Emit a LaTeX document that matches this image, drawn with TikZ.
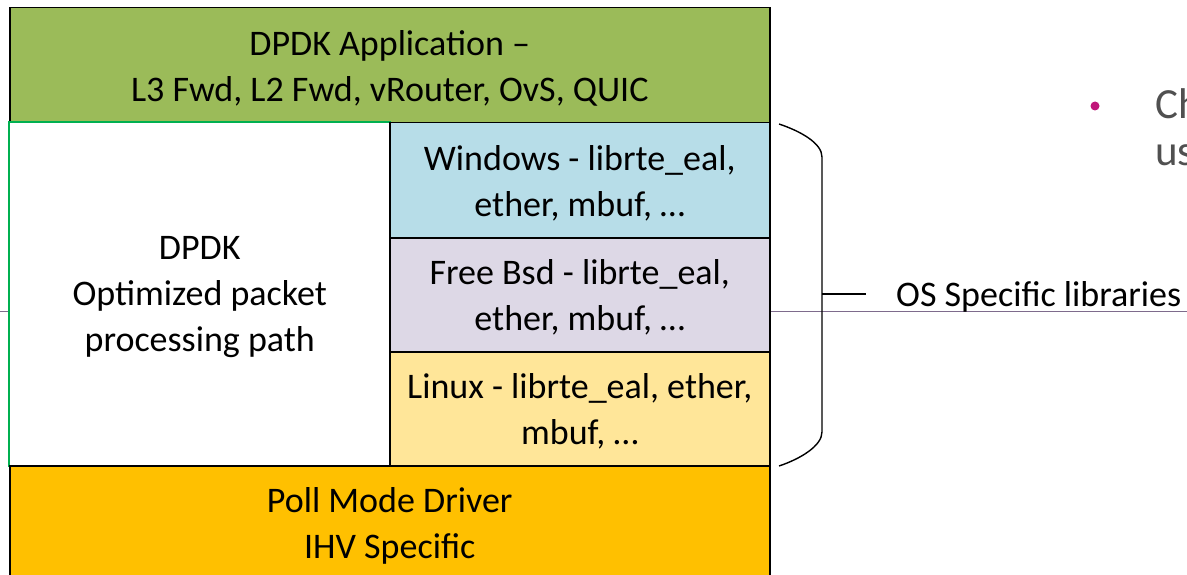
\documentclass[tikz,border=0pt]{standalone}
\usepackage{fontspec}
\setmainfont{Carlito}
\definecolor{appgreen}{HTML}{9BBB59}
\definecolor{winblue}{HTML}{B7DDE8}
\definecolor{bsdpurple}{HTML}{DDD8E6}
\definecolor{linyellow}{HTML}{FFE699}
\definecolor{pmdorange}{HTML}{FFC000}
\definecolor{edgegreen}{HTML}{00B050}
\definecolor{sepcol}{HTML}{7E6B8C}
\definecolor{bulletcol}{HTML}{C0157A}
\definecolor{slidegray}{HTML}{505050}
\begin{document}
\begin{tikzpicture}[x=1pt,y=-1pt,
  box/.style={draw=black, line width=1.5pt, inner sep=0pt, anchor=north west},
  lbl/.style={inner sep=0pt, align=center, yshift=-3pt, font=\fontsize{36}{46}\selectfont},
  brace/.style={draw=black, line width=1.4pt},
  sepline/.style={draw=sepcol, line width=0.9pt}]
\useasboundingbox (0,0) rectangle (1187,575);
\clip (0,0) rectangle (1187,575);
% background separator line of the slide
\coordinate (sepL) at (0,311);
\coordinate (sepR) at (1187,311);
\draw[sepline] (sepL) -- (sepR);
% boxes
\node[box, fill=appgreen, minimum width=760, minimum height=115] (app) at (9,7) {};
\node[box, draw=none, fill=white, minimum width=380, minimum height=343] (dpdk) at (9,122) {};
\draw[edgegreen, line width=1.5pt] (dpdk.south west) -- (dpdk.north west) -- (dpdk.north east);
\node[box, fill=winblue, minimum width=380, minimum height=115] (win) at (389,122) {};
\node[box, fill=bsdpurple, minimum width=380, minimum height=114] (bsd) at (389,237) {};
\node[box, fill=linyellow, minimum width=380, minimum height=114] (lin) at (389,351) {};
\node[box, fill=pmdorange, minimum width=760, minimum height=115] (pmd) at (9,465) {};
% texts
\node[lbl] (apptxt) at (app.center) {DPDK Application –\\L3 Fwd, L2 Fwd, vRouter, OvS, QUIC};
\node[lbl] (dpdktxt) at (dpdk.center) {DPDK\\Optimized packet\\processing path};
\node[lbl] (wintxt) at (win.center) {Windows - librte\_eal,\\ether, mbuf, …};
\node[lbl] (bsdtxt) at (bsd.center) {Free Bsd - librte\_eal,\\ether, mbuf, …};
\node[lbl] (lintxt) at (lin.center) {Linux - librte\_eal, ether,\\mbuf, …};
\node[lbl] (pmdtxt) at (pmd.center) {Poll Mode Driver\\IHV Specific};
% brace
\coordinate (bt) at (779,124);
\coordinate (bb) at (779,466);
\coordinate (bm) at (822,294);
\coordinate (bmt) at (866,294);
\draw[brace] (bt) .. controls (800,131) and (822,143) .. (822,157) -- (822,432)
  .. controls (822,446) and (800,459) .. (bb);
\draw[brace] (bm) -- (bmt);
\node[anchor=west, inner sep=0pt, font=\fontsize{36}{46}\selectfont] (oslbl) at (896,297) {OS Specific libraries};
% slide bullet text (cut off at the slide edge)
\fill[bulletcol] (1095,106) circle (4.5);
\node[anchor=base west, inner sep=0pt, text=slidegray, font=\fontsize{43}{47}\selectfont] (ch) at (1155,119) {Ch};
\node[anchor=base west, inner sep=0pt, text=slidegray, font=\fontsize{43}{47}\selectfont] (us) at (1155,166) {us};
\end{tikzpicture}
\end{document}
